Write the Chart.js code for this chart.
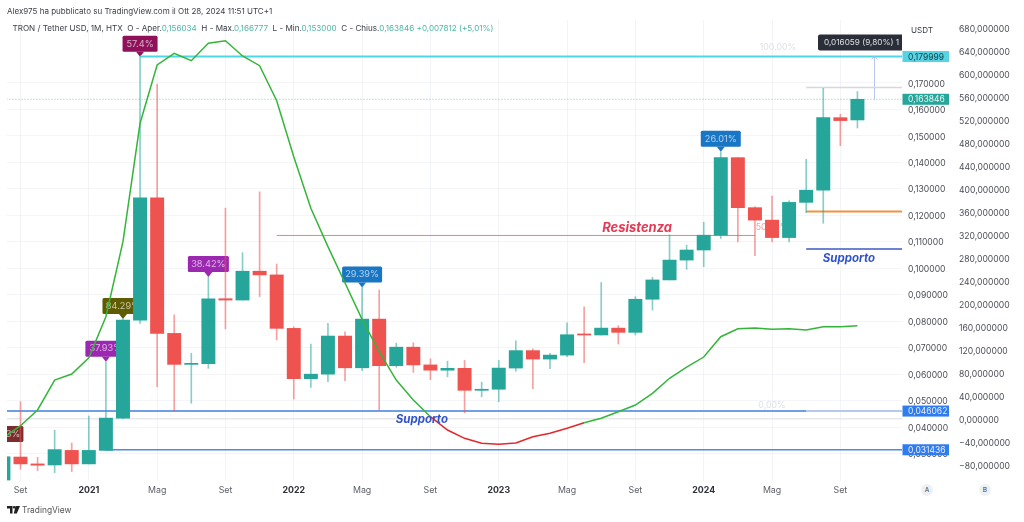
<!DOCTYPE html>
<html lang="it">
<head>
<meta charset="utf-8">
<title>TRON / Tether USD</title>
<script src="https://cdn.jsdelivr.net/npm/chart.js@4/dist/chart.umd.min.js"></script>
<style>
  body { margin: 0; background: #fff; font-family: Inter, sans-serif; }
  #box { position: relative; width: 1024px; height: 522px; overflow: hidden; }
  canvas { position: absolute; left: 0; top: 0; }
  .txt { position: absolute; white-space: pre; font-size: 8.1px; line-height: 12px; color: #3a3d45; }
  .up { color: #4db6a8; }
  .badge { position: absolute; top: 484px; width: 12px; height: 12px; line-height: 12px; border-radius: 6px;
           background: #eef0f4; text-align: center; font-size: 6.5px; color: #444; }
</style>
</head>
<body>
<div id="box">
  <canvas id="grafico" width="1024" height="522"></canvas>
  <div class="txt" style="left:7px;top:5px;font-size:8px">Alex975 ha pubblicato su TradingView.com il Ott 28, 2024 11:51 UTC+1</div>
  <div class="txt" style="left:12.5px;top:22px">TRON / Tether USD, 1M, HTX  O - Aper.<span class="up">0,156034</span>  H - Max.<span class="up">0,166777</span>  L - Min.<span class="up">0,153000</span>  C - Chius.<span class="up">0,163846 +0,007812 (+5,01%)</span></div>
  <div class="txt" style="left:911px;top:24px">USDT</div>
  <div class="badge" style="left:921px">A</div>
  <div class="badge" style="left:979px">B</div>
  <svg style="position:absolute;left:7px;top:506px" width="13" height="8" viewBox="0 0 13 8">
    <path d="M0 0h5.5v7.5H3V2.5H0z M8.6 0H13L9.8 7.5H6.8z" fill="#222"/><circle cx="7.2" cy="1.3" r="1.3" fill="#222"/>
  </svg>
  <div class="txt" style="left:22px;top:504px;font-size:8.4px;color:#555">TradingView</div>
</div>
<script>
// Mesi: indice 0 = Set 2020, il primo valore delle serie e' Ago 2020 (-1)
const firstMonth = -1;

// Candele mensili
const opens = [0.0200,0.0287,0.0261,0.0257,0.0312,0.0261,0.0312,0.0434,0.0804,0.1266,0.0754,0.0637,0.0640,0.0885,0.0880,0.0989,0.0975,0.0773,0.0583,0.0600,0.0744,0.0624,0.0808,0.0632,0.0702,0.0635,0.0615,0.0622,0.0539,0.0543,0.0623,0.0689,0.0657,0.0672,0.0752,0.0748,0.0774,0.0758,0.0883,0.0956,0.1031,0.1069,0.1125,0.1418,0.1229,0.1182,0.1116,0.1249,0.1295,0.1569,0.156034];
const highs = [0.0325,0.0496,0.0286,0.0388,0.0340,0.0442,0.0647,0.0808,0.1799,0.1696,0.0824,0.0679,0.0967,0.1227,0.1059,0.1289,0.1016,0.0779,0.0714,0.0792,0.0760,0.0927,0.0918,0.0717,0.0719,0.0658,0.0649,0.0652,0.0570,0.0652,0.0726,0.0696,0.0679,0.0794,0.0854,0.0946,0.0783,0.0893,0.0966,0.1126,0.1088,0.1174,0.1440,0.1418,0.1233,0.1273,0.1255,0.1412,0.1680,0.1582,0.166777];
const lows = [0.0200,0.0241,0.0235,0.0228,0.0232,0.0261,0.0312,0.0432,0.0792,0.0553,0.0461,0.0490,0.0622,0.0771,0.0880,0.0893,0.0729,0.0506,0.0550,0.0572,0.0575,0.0613,0.0465,0.0626,0.0607,0.0579,0.0590,0.0454,0.0515,0.0496,0.0611,0.0545,0.0621,0.0666,0.0643,0.0748,0.0714,0.0748,0.0842,0.0956,0.0996,0.1006,0.1113,0.1100,0.1048,0.1100,0.1100,0.1210,0.1170,0.1463,0.153];
const closes = [0.0288,0.0261,0.0256,0.0315,0.0261,0.0312,0.0434,0.0804,0.1266,0.0754,0.0637,0.0641,0.0885,0.0880,0.0989,0.0975,0.0773,0.0583,0.0600,0.0744,0.0624,0.0808,0.0632,0.0702,0.0635,0.0615,0.0622,0.0539,0.0543,0.0623,0.0689,0.0657,0.0672,0.0749,0.0748,0.0774,0.0758,0.0883,0.0956,0.1031,0.1069,0.1125,0.1418,0.1229,0.1182,0.1116,0.1249,0.1295,0.1569,0.1558,0.163846];

// Oscillatore sulla seconda scala
const oscillator = [-33,-11.6,15.7,67.8,78.3,106.6,177.9,308.3,514.3,615.7,636,623.1,653.4,657.9,631.3,614.4,553.6,456.2,366.4,299.7,236.5,173.4,117,67.8,33,4,-19.1,-33.6,-42.3,-44,-41.7,-30.8,-24.9,-16.2,-6.4,1.2,12.7,24.3,44.7,70.8,90.4,107.8,143.1,157,158.3,156,157,154.8,160.5,160.5,162.2];
const oscRedFrom = 24;
const oscRedTo = 33;

// Assi
const xTickMonths = [0,4,8,12,16,20,24,28,32,36,40,44,48];
const xTickLabels = ['Set','2021','Mag','Set','2022','Mag','Set','2023','Mag','Set','2024','Mag','Set'];
const priceTicks = [0.03,0.04,0.05,0.06,0.07,0.08,0.09,0.10,0.11,0.12,0.13,0.14,0.15,0.16,0.17];
const oscTicks = [-80,-40,0,40,80,120,160,200,240,280,320,360,400,440,480,520,560,600,640,680];

// Livelli orizzontali
const levelPrices = [0.179999,0.046062,0.046062,0.031436,0.1124,0.1683,0.1215,0.1073];
const levelStarts = [7,-1,46,5,15,46,46,46];
const levelEnds = [52,46,52,52,43,52,52,52];

// Etichette
const lastPrice = 0.163846;
const calloutMonths = [-1,5,6,7,11,20,41];
const calloutTexts = ['3%','37.93%','84.29%','57.4%','38.42%','29.39%','26.01%'];
const noteTexts = ['Resistenza','Supporto','Supporto'];
const noteMonths = [36.1,23.5,48.5];
const notePrices = [0.1150,0.0427,0.1038];
const paleTexts = ['100.00%','0,00%','50.00%'];
const paleMonths = [44.35,44.0,44.0];
const palePrices = [0.1833,0.0484,0.1156];
const tagPrices = [0.179999,0.163846,0.046062,0.031436];
const measureMonth = 50;
const measureText = '0,016059 (9,80%) 1';

// Stili
const TEAL = '#26a69a', RED = '#ef5350', FONT = 'Inter, sans-serif';
const levelColors = ['#4fd6e6','#6f9fe6','#b6c9ea','#4b8bea','#ee7e85','#d5d8e0','#f0933a','#3d58c4'];
const levelWidths = [2,2,2,1.5,1,1.5,2,1.5];
const calloutColors = ['#7b2d2d','#9c27b0','#5f5b00','#8e1159','#9c27b0','#1976c4','#1976c4'];
const calloutWidths = [40,41,41,35,41,40,40];
const noteColors = ['#e53955','#2e52c9','#2e52c9'];
const noteFonts = ['italic bold 13px ' + FONT,'italic bold 11.5px ' + FONT,'italic bold 11.5px ' + FONT];
const paleColors = ['#dfe1e6','#dfe1e6','#f2a09e'];
const tagColors = ['#56d4e4',TEAL,'#2f7bf0','#2f7bf0'];
const tagTextColors = ['#12414a','#e8f5f3','#e8efff','#e8efff'];

const months = opens.map((_, i) => i + firstMonth);
const isUp = i => closes[i] >= opens[i];
const it = v => v.toFixed(6).replace('.', ',');
const isYear = c => c.index !== undefined && /^\d/.test(xTickLabels[c.index] || '');

const levelSets = levelPrices.map((p, i) => ({
    type: 'line',
    data: [{x: levelStarts[i], y: p}, {x: levelEnds[i], y: p}],
    borderColor: levelColors[i],
    borderWidth: levelWidths[i],
    pointRadius: 0,
    yAxisID: 'y',
    order: 3
}));

// Disegni extra sul canvas: etichette sopra le candele e prezzi sull'asse
const chartMarks = {
    id: 'chartMarks',
    beforeDatasetsDraw(chart) {
        const {ctx, chartArea: area, scales: {x, y}} = chart;
        ctx.save();
        ctx.beginPath();
        ctx.rect(area.left, area.top, area.right - area.left, area.bottom - area.top);
        ctx.clip();
        ctx.textAlign = 'center';
        ctx.textBaseline = 'middle';
        ctx.font = '8.8px ' + FONT;
        paleTexts.forEach((t, i) => {
            ctx.fillStyle = paleColors[i];
            ctx.fillText(t, x.getPixelForValue(paleMonths[i]), y.getPixelForValue(palePrices[i]));
        });
        ctx.font = '9.2px ' + FONT;
        calloutMonths.forEach((m, i) => {
            const cx = x.getPixelForValue(m);
            const tip = y.getPixelForValue(highs[m - firstMonth]);
            const w = calloutWidths[i];
            ctx.fillStyle = calloutColors[i];
            ctx.beginPath();
            ctx.roundRect(cx - w / 2, tip - 21, w, 16, 1.5);
            ctx.fill();
            ctx.beginPath();
            ctx.moveTo(cx - 4, tip - 5);
            ctx.lineTo(cx + 4, tip - 5);
            ctx.lineTo(cx, tip);
            ctx.fill();
            ctx.fillStyle = 'rgba(255,255,255,0.65)';
            ctx.fillText(calloutTexts[i], Math.max(cx, area.left + 6), tip - 13);
        });
        ctx.restore();
    },
    afterDatasetsDraw(chart) {
        const {ctx, chartArea: area, scales: {x, y}} = chart;
        ctx.save();
        ctx.textBaseline = 'middle';
        ctx.textAlign = 'center';
        noteTexts.forEach((t, i) => {
            ctx.font = noteFonts[i];
            ctx.fillStyle = noteColors[i];
            ctx.fillText(t, x.getPixelForValue(noteMonths[i]), y.getPixelForValue(notePrices[i]));
        });

        // freccia della misura
        const ax = x.getPixelForValue(measureMonth);
        const ay = y.getPixelForValue(tagPrices[0]);
        ctx.strokeStyle = '#b9c6f2';
        ctx.beginPath();
        ctx.moveTo(ax - 3, ay + 3);
        ctx.lineTo(ax, ay);
        ctx.lineTo(ax + 3, ay + 3);
        ctx.stroke();

        // etichetta scura, tagliata al bordo del grafico
        ctx.save();
        ctx.beginPath();
        ctx.rect(area.left, 0, area.right - area.left, area.bottom);
        ctx.clip();
        ctx.fillStyle = '#2a2e39';
        ctx.beginPath();
        ctx.roundRect(818, ay - 22, 100, 16, 2);
        ctx.fill();
        ctx.fillStyle = '#dfe1e6';
        ctx.textAlign = 'left';
        ctx.font = '8.2px ' + FONT;
        ctx.fillText(measureText, 824, ay - 14);
        ctx.restore();

        // prezzi sull'asse
        ctx.font = '8.5px ' + FONT;
        ctx.textAlign = 'left';
        tagPrices.forEach((p, i) => {
            const py = y.getPixelForValue(p);
            ctx.fillStyle = tagColors[i];
            ctx.fillRect(area.right + 0.5, py - 5.5, 46.5, 11);
            ctx.fillStyle = tagTextColors[i];
            ctx.fillText(it(p), area.right + 6, py + 0.5);
        });
        ctx.restore();
    }
};

const ctx = document.getElementById('grafico').getContext('2d');
new Chart(ctx, {
    type: 'bar',
    plugins: [chartMarks],
    data: {
        datasets: [
            {
                type: 'line',
                data: months.map((m, i) => ({x: m, y: oscillator[i]})),
                yAxisID: 'y2',
                borderColor: '#34b53a',
                borderWidth: 1.5,
                pointRadius: 0,
                tension: 0,
                segment: {
                    borderColor: c => (c.p0.parsed.x >= oscRedFrom && c.p1.parsed.x <= oscRedTo) ? '#e5262b' : '#34b53a'
                },
                order: 0
            },
            {
                data: months.map((m, i) => ({x: m, y: [opens[i], closes[i]]})),
                backgroundColor: months.map((_, i) => isUp(i) ? TEAL : RED),
                barThickness: 13.3,
                grouped: false,
                yAxisID: 'y',
                order: 1
            },
            {
                data: months.map((m, i) => ({x: m, y: [lows[i], highs[i]]})),
                backgroundColor: months.map((_, i) => isUp(i) ? 'rgba(38,166,154,0.55)' : 'rgba(239,83,80,0.55)'),
                barThickness: 1,
                grouped: false,
                yAxisID: 'y',
                order: 2
            },
            ...levelSets,
            {
                type: 'line',
                data: [{x: -1, y: lastPrice}, {x: 52, y: lastPrice}],
                borderColor: 'rgba(38,166,154,0.6)',
                borderWidth: 1,
                borderDash: [1, 2],
                pointRadius: 0,
                yAxisID: 'y',
                order: 3
            },
            {
                type: 'line',
                data: [{x: measureMonth, y: lastPrice}, {x: measureMonth, y: tagPrices[0]}],
                borderColor: '#b9c6f2',
                borderWidth: 1,
                pointRadius: 0,
                yAxisID: 'y',
                order: 3
            }
        ]
    },
    options: {
        responsive: false,
        animation: false,
        layout: {padding: {left: 7, top: 20}},
        plugins: {legend: {display: false}, tooltip: {enabled: false}},
        scales: {
            x: {
                type: 'linear',
                offset: false,
                min: -0.79,
                max: 51.61,
                border: {display: false},
                grid: {
                    offset: false,
                    drawTicks: false,
                    color: 'rgba(232,235,243,0.55)'
                },
                afterBuildTicks: axis => { axis.ticks = xTickMonths.map(value => ({value})); },
                afterFit: axis => { axis.height = 41; },
                ticks: {
                    autoSkip: false,
                    maxRotation: 0,
                    padding: 4,
                    callback: v => xTickLabels[xTickMonths.indexOf(v)],
                    font: c => ({family: FONT, size: 8.8, weight: isYear(c) ? '700' : '400'}),
                    color: c => isYear(c) ? '#2e3038' : '#5c5f68'
                }
            },
            y: {
                position: 'right',
                min: 0.01964,
                max: 0.1938,
                border: {display: false},
                grid: {drawTicks: false, color: 'rgba(232,235,243,0.5)'},
                afterBuildTicks: axis => { axis.ticks = priceTicks.map(value => ({value})); },
                afterFit: axis => { axis.width = 51; },
                ticks: {
                    padding: 6,
                    labelOffset: 1,
                    callback: it,
                    font: {family: FONT, size: 8.6},
                    color: '#4a4d55'
                }
            },
            y2: {
                position: 'right',
                min: -107.8,
                max: 693.9,
                border: {display: false},
                grid: {
                    drawTicks: false,
                    color: c => (c.tick && c.tick.value === 0) ? '#e6e8ee' : 'rgba(0,0,0,0)',
                    lineWidth: 1.5
                },
                afterBuildTicks: axis => { axis.ticks = oscTicks.map(value => ({value})); },
                afterFit: axis => { axis.width = 71; },
                ticks: {
                    padding: 6,
                    labelOffset: 1,
                    callback: v => (v < 0 ? '\u2212' : '') + it(Math.abs(v)),
                    font: {family: FONT, size: 8.6},
                    color: '#4a4d55'
                }
            }
        }
    }
});
</script>
</body>
</html>
